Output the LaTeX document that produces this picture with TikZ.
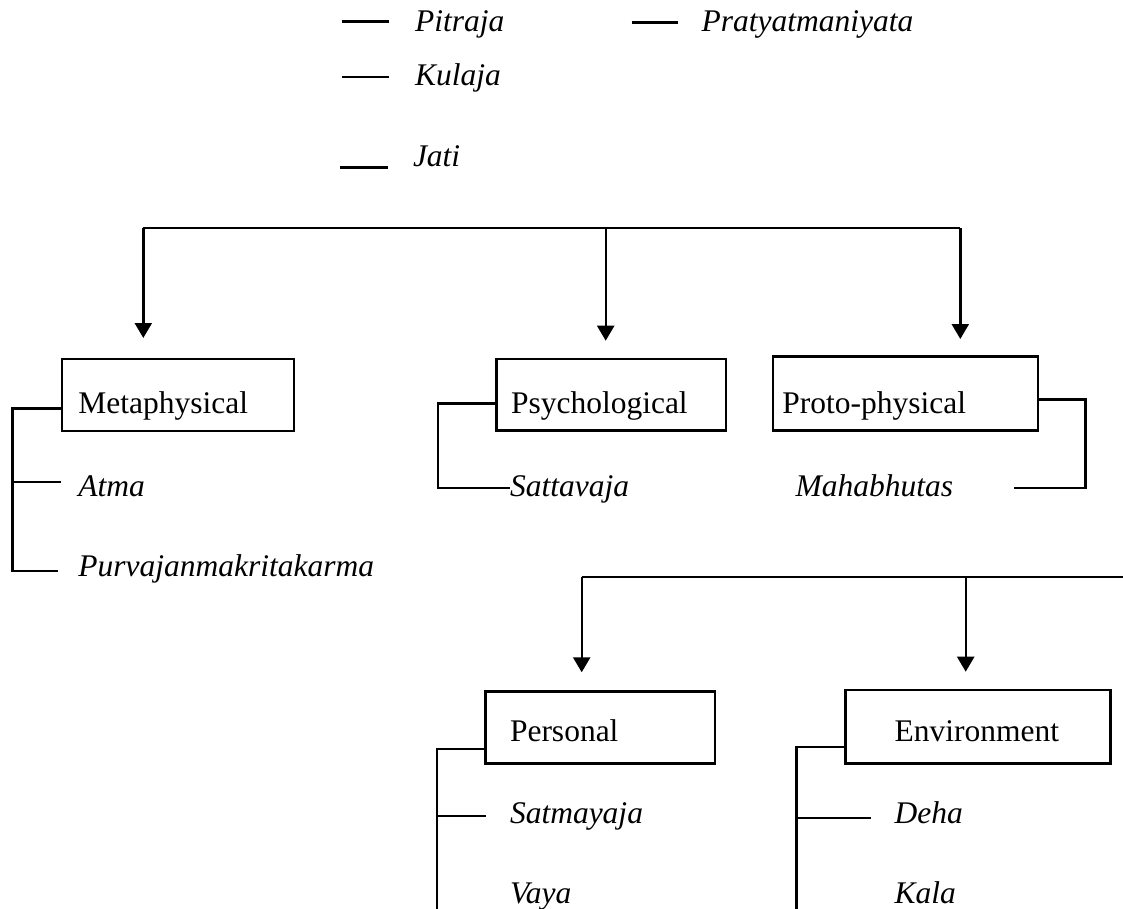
\documentclass[tikz,border=0pt]{standalone}
\usepackage{fontspec}
\setmainfont{Liberation Serif}
\usetikzlibrary{arrows.meta}
\begin{document}
\begin{tikzpicture}[x=1pt,y=-1pt,
  lbl/.style={anchor=base west, inner sep=0pt, outer sep=0pt, font=\fontsize{31.5pt}{38pt}\selectfont\itshape},
  bx/.style n args={4}{draw, line width=2.8pt, anchor=base west, inner ysep=0pt, inner xsep=#1, outer sep=0pt,
     text width=#2, text height=#3, text depth=#4, align=left, font=\fontsize{31.5pt}{38pt}\selectfont},
  conn/.style={line width=2.4pt},
  arr/.style={conn, -{Triangle[width=17pt,length=15pt]}}]
\useasboundingbox (0,0) rectangle (1123,909);

% legend at top
\node[lbl] (pit) at (415,31.7) {Pitraja};
\node[lbl] (prat) at (701.7,31.7) {Pratyatmaniyata};
\node[lbl] (kul) at (415,86) {Kulaja};
\node[lbl] (jati) at (413,166.7) {Jati};
\coordinate (pitA) at (342.3,21.7);  \coordinate (pitB) at (389.3,21.7);
\coordinate (pratA) at (631.7,22.7); \coordinate (pratB) at (678.3,22.7);
\coordinate (kulA) at (342.3,77.3);  \coordinate (kulB) at (389.3,77.3);
\coordinate (jatA) at (340,167.7);   \coordinate (jatB) at (388,167.7);
\draw[line width=3.4pt] (pitA) -- (pitB);
\draw[line width=2.4pt] (pratA) -- (pratB);
\draw[line width=2.4pt] (kulA) -- (kulB);
\draw[line width=2.8pt] (jatA) -- (jatB);

% first level boxes
\node[bx={16.3pt}{199.4pt}{54pt}{18pt}] (meta) at (62,413) {\mbox{Metaphysical}};
\node[bx={14.3pt}{200.7pt}{54.3pt}{17.4pt}] (psy) at (496.7,413.3) {\mbox{Psychological}};
\node[bx={9.3pt}{246.4pt}{56.6pt}{17.4pt}] (pro) at (773,413.3) {\mbox{Proto-physical}};

% top bracket
\coordinate (t1) at (143.3,228.3);
\coordinate (t2) at (605.7,228.3);
\coordinate (t3) at (960.3,228.3);
\draw[conn] (t1) -- (t3);
\draw[arr, shorten >=21pt] (t1) -- (t1 |- meta.north);
\draw[arr, shorten >=18.3pt] (t2) -- (t2 |- psy.north);
\draw[arr, shorten >=17.7pt] (t3) -- (t3 |- pro.north);

% metaphysical items
\node[lbl] (atma) at (78.3,496.7) {Atma};
\node[lbl] (purva) at (78.3,576) {Purvajanmakritakarma};
\coordinate (mTop) at (12.3,408.5);
\coordinate (mBot) at (12.3,570.7);
\coordinate (mAt) at (12.3,481.7);
\draw[conn] (meta.west |- mTop) -- (mTop) -- (mBot) -- (58.3,570.7);
\draw[conn] (mAt) -- (61,481.7);

% psychological item
\node[lbl] (satt) at (510,496.7) {Sattavaja};
\coordinate (pTop) at (437.7,403.3);
\coordinate (pBot) at (437.7,487.7);
\draw[conn] (psy.west |- pTop) -- (pTop) -- (pBot) -- (satt.west |- pBot);

% proto-physical item
\node[lbl] (maha) at (795.7,496.7) {Mahabhutas};
\coordinate (rTop) at (1085.3,399.3);
\coordinate (rBot) at (1085.3,487.7);
\draw[conn] (pro.east |- rTop) -- (rTop) -- (rBot) -- (1014,487.7);

% second level
\node[bx={24.3pt}{180.7pt}{49.3pt}{22.3pt}] (per) at (485.7,741) {\mbox{Personal}};
\node[bx={49pt}{166.6pt}{51pt}{22.3pt}] (env) at (845.7,741) {\mbox{Environment}};
\coordinate (b1) at (581.7,576.7);
\coordinate (b2) at (965.7,576.7);
\coordinate (bR) at (1123,576.7);
\draw[conn] (b1) -- (bR);
\draw[arr, shorten >=19.4pt] (b1) -- (b1 |- per.north);
\draw[arr, shorten >=18.3pt] (b2) -- (b2 |- env.north);

% personal items
\node[lbl] (satm) at (510,823.3) {Satmayaja};
\node[lbl] (vaya) at (510,903.3) {Vaya};
\coordinate (qTop) at (436.7,749);
\coordinate (qBot) at (436.7,909);
\coordinate (qSm) at (436.7,815.7);
\draw[conn] (per.west |- qTop) -- (qTop) -- (qBot);
\draw[conn] (qSm) -- (485.7,815.7);

% environment items
\node[lbl] (deha) at (894.7,823.3) {Deha};
\node[lbl] (kala) at (894.7,903.3) {Kala};
\coordinate (eTop) at (796.3,746.7);
\coordinate (eBot) at (796.3,909);
\coordinate (eDh) at (796.3,817.7);
\draw[conn] (env.west |- eTop) -- (eTop) -- (eBot);
\draw[conn] (eDh) -- (871.3,817.7);
\end{tikzpicture}
\end{document}
